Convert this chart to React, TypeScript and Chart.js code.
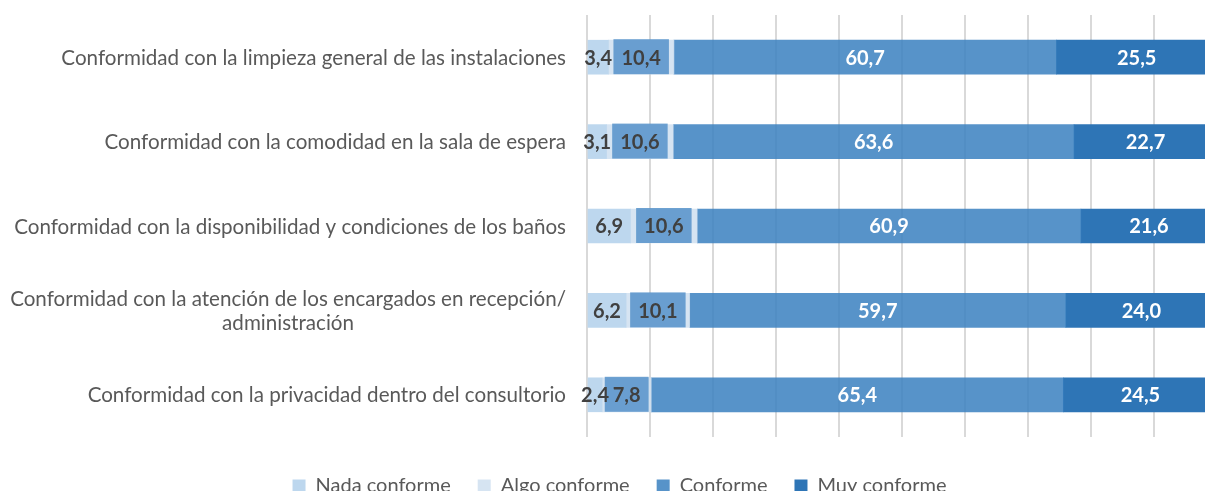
import React, { useEffect, useRef } from "react";
import { Chart, registerables } from "chart.js";

Chart.register(...registerables);

const categories: (string | string[])[] = [
  "Conformidad con la limpieza general de las instalaciones",
  "Conformidad con la comodidad en la sala de espera",
  "Conformidad con la disponibilidad y condiciones de los baños",
  ["Conformidad con la atención de los encargados en recepción/", "administración"],
  "Conformidad con la privacidad dentro del consultorio",
];

const seriesNames = ["Nada conforme", "Algo conforme", "Conforme", "Muy conforme"];

const nadaConforme = [3.4, 3.1, 6.9, 6.2, 2.4];
const algoConforme = [10.4, 10.6, 10.6, 10.1, 7.8];
const conforme = [60.7, 63.6, 60.9, 59.7, 65.4];
const muyConforme = [25.5, 22.7, 21.6, 24.0, 24.5];

const seriesColors = [
  "#bdd7ee",
  "rgba(207,223,240,0.85)",
  "rgba(57,128,191,0.85)",
  "#2e75b6",
];
const algoBoxColor = "rgba(87,147,202,0.85)";
const labelColors = ["#404040", "#404040", "#ffffff", "#ffffff"];

const fmt = (v: number) => v.toFixed(1).replace(".", ",");

const valueLabelPlugin = {
  id: "valueLabels",
  afterDatasetsDraw(chart: any) {
    const ctx = chart.ctx as CanvasRenderingContext2D;
    ctx.save();
    ctx.font = "bold 20px Lato";
    ctx.textAlign = "center";
    ctx.textBaseline = "middle";
    // label boxes for "Algo conforme"
    const metaAlgo = chart.getDatasetMeta(1);
    metaAlgo.data.forEach((el: any, i: number) => {
      const p = el.getProps(["x", "y", "base", "height"], true);
      const txt = fmt(chart.data.datasets[1].data[i]);
      const w = ctx.measureText(txt).width + 16;
      const cx = (p.x + p.base) / 2;
      ctx.fillStyle = algoBoxColor;
      ctx.fillRect(cx - w / 2, p.y - p.height / 2 - 1, w, p.height + 1);
    });
    chart.data.datasets.forEach((ds: any, di: number) => {
      const meta = chart.getDatasetMeta(di);
      ctx.fillStyle = labelColors[di];
      meta.data.forEach((el: any, i: number) => {
        const p = el.getProps(["x", "y", "base"], true);
        ctx.fillText(fmt(ds.data[i]), (p.x + p.base) / 2, p.y + 1);
      });
    });
    ctx.restore();
  },
};

const categoryLabelPlugin = {
  id: "categoryLabels",
  afterDraw(chart: any) {
    const ctx = chart.ctx as CanvasRenderingContext2D;
    const yScale = chart.scales.y;
    const right = chart.chartArea.left - 21;
    const lineHeight = 24;
    ctx.save();
    ctx.font = "20.6px Lato";
    ctx.fillStyle = "#595959";
    ctx.textBaseline = "middle";
    categories.forEach((label, i) => {
      const y = yScale.getPixelForValue(i) + 1;
      const lines = Array.isArray(label) ? label : [label];
      if (lines.length === 1) {
        ctx.textAlign = "right";
        ctx.fillText(lines[0], right, y);
      } else {
        const maxW = Math.max(...lines.map((l) => ctx.measureText(l).width));
        ctx.textAlign = "center";
        const cx = right - maxW / 2;
        const y0 = y - ((lines.length - 1) * lineHeight) / 2;
        lines.forEach((l, k) => ctx.fillText(l, cx, y0 + k * lineHeight));
      }
    });
    ctx.restore();
  },
};

export default function App() {
  const canvasRef = useRef<HTMLCanvasElement | null>(null);

  useEffect(() => {
    if (!canvasRef.current) return;
    const seriesValues = [nadaConforme, algoConforme, conforme, muyConforme];
    const chart = new Chart(canvasRef.current, {
      type: "bar",
      data: {
        labels: categories.map((c) => (Array.isArray(c) ? c.join(" ") : c)),
        datasets: seriesNames.map((name, i) => ({
          label: name,
          data: seriesValues[i],
          backgroundColor: seriesColors[i],
          borderWidth: 0,
          barThickness: 34,
        })),
      },
      options: {
        indexAxis: "y",
        responsive: false,
        animation: false,
        layout: { padding: { top: 15, right: 23, left: 22, bottom: 0 } },
        scales: {
          x: {
            stacked: true,
            min: 0,
            max: 100,
            ticks: { display: false, stepSize: 10 },
            grid: {
              color: "#d9d9d9",
              lineWidth: 2,
              drawTicks: true,
              tickLength: 12,
              tickColor: "rgba(0,0,0,0)",
            },
            border: { display: false },
          },
          y: {
            stacked: true,
            ticks: { display: false },
            grid: { display: false },
            border: { display: false },
            afterFit: (scale: any) => {
              scale.width = 565;
            },
          },
        },
        plugins: {
          legend: {
            display: true,
            position: "bottom",
            labels: {
              boxWidth: 13,
              boxHeight: 13,
              padding: 27,
              color: "#595959",
              font: { family: "Lato", size: 20 },
            },
          },
          tooltip: { enabled: false },
        },
      },
      plugins: [valueLabelPlugin, categoryLabelPlugin],
    } as any);
    return () => chart.destroy();
  }, []);

  return (
    <div
      style={{
        position: "fixed",
        left: 0,
        top: 0,
        width: 1205,
        height: 491,
        overflow: "hidden",
        background: "#ffffff",
      }}
    >
      <canvas ref={canvasRef} width={1240} height={506} />
    </div>
  );
}
